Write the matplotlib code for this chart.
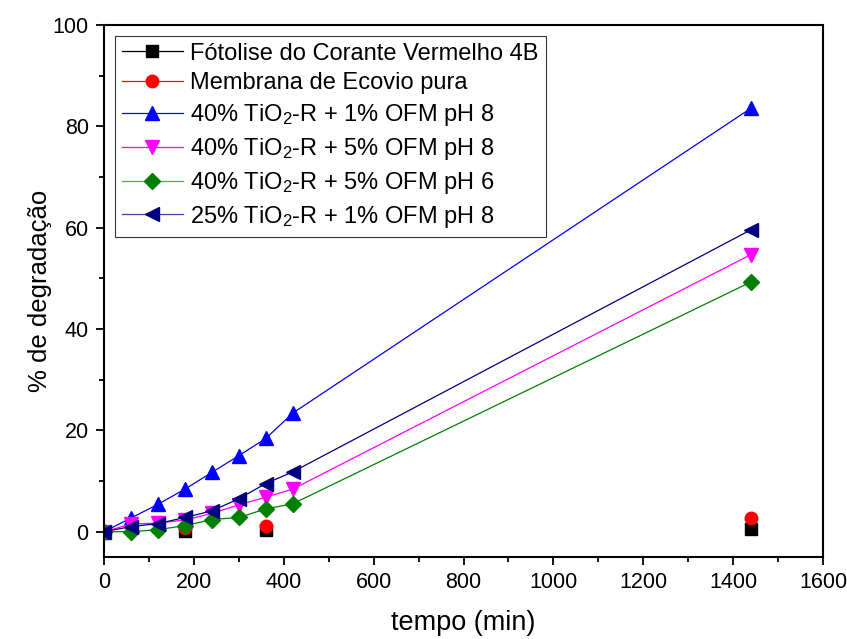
import matplotlib
matplotlib.use('Agg')
import matplotlib.pyplot as plt
from matplotlib.lines import Line2D
from matplotlib.ticker import MultipleLocator

plt.rcParams['font.family'] = ['Liberation Sans', 'DejaVu Sans']
plt.rcParams['mathtext.fontset'] = 'custom'
plt.rcParams['mathtext.rm'] = 'Liberation Sans'
plt.rcParams['mathtext.it'] = 'Liberation Sans:italic'

# tempo (min)
t_ref = [0, 180, 360, 1440]
t_amostras = [0, 60, 120, 180, 240, 300, 360, 420, 1440]

# % de degradação
fotolise = [0, 0.1, 0.4, 0.5]
ecovio = [0, 0.8, 1.2, 2.7]
tio2_40_1_ph8 = [0, 2.7, 5.4, 8.4, 11.7, 15.0, 18.4, 23.4, 83.6]
tio2_40_5_ph8 = [0, 1.5, 1.7, 2.3, 3.6, 5.3, 6.8, 8.4, 54.7]
tio2_40_5_ph6 = [0, 0.0, 0.4, 1.2, 2.4, 2.8, 4.5, 5.5, 49.3]
tio2_25_1_ph8 = [0, 1.0, 1.6, 2.8, 4.1, 6.5, 9.5, 11.8, 59.6]

labels = ['Fótolise do Corante Vermelho 4B',
          'Membrana de Ecovio pura',
          '40% TiO$_2$-R + 1% OFM pH 8',
          '40% TiO$_2$-R + 5% OFM pH 8',
          '40% TiO$_2$-R + 5% OFM pH 6',
          '25% TiO$_2$-R + 1% OFM pH 8']

fig = plt.figure(figsize=(8.47, 6.39), dpi=100)
ax = fig.add_axes([0.1228, 0.1283, 0.8489, 0.8326])

lw = 0.9
ax.plot(t_ref, fotolise, linestyle='none', marker='s', color='black', ms=8)
ax.plot(t_ref, ecovio, linestyle='none', marker='o', color='red', ms=9)
ax.plot(t_amostras, tio2_40_1_ph8, marker='^', color='#0000FF', ms=10.5, lw=lw)
ax.plot(t_amostras, tio2_40_5_ph8, marker='v', color='#FF00FF', ms=10.5, lw=lw)
ax.plot(t_amostras, tio2_40_5_ph6, marker='D', color='#008000', ms=8, lw=lw)
ax.plot(t_amostras, tio2_25_1_ph8, marker='<', color='#000080', ms=10.5, lw=lw)

# na legenda todas as series aparecem com linha
handles = [
    Line2D([], [], color='black', marker='s', ms=8, lw=lw),
    Line2D([], [], color='red', marker='o', ms=9, lw=lw),
    Line2D([], [], color='#0000FF', marker='^', ms=10.5, lw=lw),
    Line2D([], [], color='#FF00FF', marker='v', ms=10.5, lw=lw),
    Line2D([], [], color='#4CAF50', marker='D', mfc='#008000', mec='#008000', ms=8, lw=lw),
    Line2D([], [], color='#4040A0', marker='<', mfc='#000080', mec='#000080', ms=10.5, lw=lw),
]
leg = ax.legend(handles, labels, loc='upper left', fontsize=17, frameon=True,
                fancybox=False, edgecolor='black', handlelength=2.6,
                borderaxespad=0.45, labelspacing=0.33, handletextpad=0.3,
                borderpad=0.3)
leg.get_frame().set_linewidth(0.8)

ax.set_xlim(0, 1600)
ax.set_ylim(-5, 100)
ax.xaxis.set_major_locator(MultipleLocator(200))
ax.xaxis.set_minor_locator(MultipleLocator(100))
ax.yaxis.set_major_locator(MultipleLocator(20))
ax.yaxis.set_minor_locator(MultipleLocator(10))
ax.tick_params(which='major', direction='out', length=6, width=1.3, labelsize=15.5, pad=5)
ax.tick_params(which='minor', direction='out', length=3.5, width=1.3)
for s in ax.spines.values():
    s.set_linewidth(1.5)

ax.set_xlabel('tempo (min)', fontsize=19.5, labelpad=12)
ax.set_ylabel('% de degradação', fontsize=18.5, labelpad=0.5)

fig.savefig('out.png', dpi=100)
